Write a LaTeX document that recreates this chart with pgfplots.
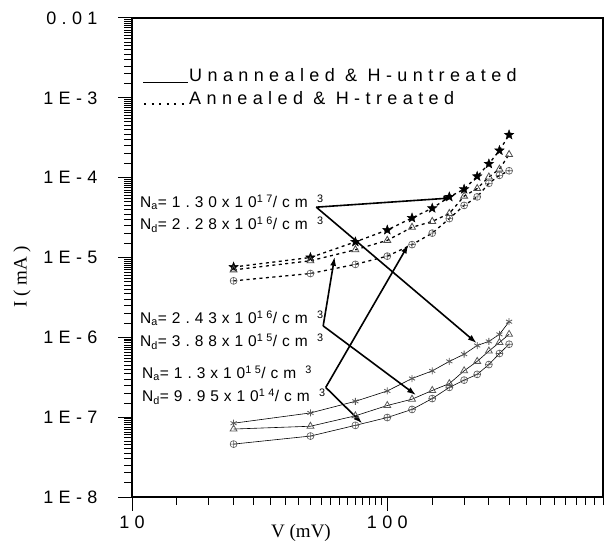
\documentclass[border=0pt]{standalone}
\usepackage{pgfplots}
\pgfplotsset{compat=1.18}
\usepackage{pgfplotstable}
\usepackage{fontspec}
\setmainfont{Liberation Sans}
\newfontfamily\spc[LetterSpace=30]{Liberation Sans}
\newfontfamily\spcb[LetterSpace=32]{Liberation Sans}
\newfontfamily\tnr{Liberation Serif}
\usetikzlibrary{arrows.meta}

\pgfdeclareplotmark{fstar}{%
  \pgfpathmoveto{\pgfpointpolar{90}{\pgfplotmarksize}}%
  \pgfpathlineto{\pgfpointpolar{126}{0.42\pgfplotmarksize}}%
  \pgfpathlineto{\pgfpointpolar{162}{\pgfplotmarksize}}%
  \pgfpathlineto{\pgfpointpolar{198}{0.42\pgfplotmarksize}}%
  \pgfpathlineto{\pgfpointpolar{234}{\pgfplotmarksize}}%
  \pgfpathlineto{\pgfpointpolar{270}{0.42\pgfplotmarksize}}%
  \pgfpathlineto{\pgfpointpolar{306}{\pgfplotmarksize}}%
  \pgfpathlineto{\pgfpointpolar{342}{0.42\pgfplotmarksize}}%
  \pgfpathlineto{\pgfpointpolar{18}{\pgfplotmarksize}}%
  \pgfpathlineto{\pgfpointpolar{54}{0.42\pgfplotmarksize}}%
  \pgfpathclose\pgfusepathqfillstroke}

\pgfplotstableread{
V    Uast     Utri     Uopl     Astar    Atri     Aopl
25   8.4e-8   7.1e-8   4.6e-8   7.6e-6   7.0e-6   5.1e-6
50   1.13e-7  7.7e-8   5.8e-8   1.0e-5   9.1e-6   6.3e-6
75   1.58e-7  1.04e-7  7.9e-8   1.57e-5  1.25e-5  8.2e-6
100  2.13e-7  1.40e-7  9.9e-8   2.21e-5  1.64e-5  1.04e-5
125  3.05e-7  1.68e-7  1.25e-7  3.13e-5  2.39e-5  1.45e-5
150  3.8e-7   2.16e-7  1.71e-7  4.14e-5  2.83e-5  2.02e-5
175  5.0e-7   2.63e-7  2.36e-7  5.75e-5  3.56e-5  3.07e-5
200  6.15e-7  3.81e-7  2.91e-7  7.17e-5  5.87e-5  4.49e-5
225  7.9e-7   5.0e-7   3.44e-7  1.04e-4  7.31e-5  5.75e-5
250  8.9e-7   6.73e-7  4.56e-7  1.49e-4  1.02e-4  8.49e-5
275  1.09e-6  8.63e-7  6.27e-7  2.19e-4  1.28e-4  1.07e-4
300  1.57e-6  1.09e-6  8.2e-7   3.44e-4  1.95e-4  1.22e-4
}\data

\begin{document}
\begin{tikzpicture}[x=1bp,y=1bp]
\path[use as bounding box] (-132,-46) rectangle (473,497);
\begin{axis}[
  at={(0,0)}, anchor=south west,
  scale only axis, width=471bp, height=479bp,
  xmode=log, ymode=log,
  xmin=10, xmax=700, ymin=1e-8, ymax=1e-2,
  axis line style={line width=1.3bp},
  tick pos=left, tick align=outside,
  major tick length=14bp, minor tick length=8bp,
  every tick/.style={black, line width=1bp},
  xtick={10,100}, xticklabels={{\spc 10},{\spc 100}},
  minor xtick={15,20,25,30,35,40,45,50,55,60,65,70,75,80,85,90,95,150,200,250,300,350,400,450,500,550,600,650,700},
  ytick={1e-8,1e-7,1e-6,1e-5,1e-4,1e-3,1e-2},
  yticklabels={{\spc 1E-8},{\spc 1E-7},{\spc 1E-6},{\spc 1E-5},{\spc 1E-4},{\spc 1E-3},{\spc 0.01}},
  minor ytick={1.5e-8,2e-8,2.5e-8,3e-8,3.5e-8,4e-8,4.5e-8,5e-8,5.5e-8,6e-8,6.5e-8,7e-8,7.5e-8,8e-8,8.5e-8,9e-8,9.5e-8,
    1.5e-7,2e-7,2.5e-7,3e-7,3.5e-7,4e-7,4.5e-7,5e-7,5.5e-7,6e-7,6.5e-7,7e-7,7.5e-7,8e-7,8.5e-7,9e-7,9.5e-7,
    1.5e-6,2e-6,2.5e-6,3e-6,3.5e-6,4e-6,4.5e-6,5e-6,5.5e-6,6e-6,6.5e-6,7e-6,7.5e-6,8e-6,8.5e-6,9e-6,9.5e-6,
    1.5e-5,2e-5,2.5e-5,3e-5,3.5e-5,4e-5,4.5e-5,5e-5,5.5e-5,6e-5,6.5e-5,7e-5,7.5e-5,8e-5,8.5e-5,9e-5,9.5e-5,
    1.5e-4,2e-4,2.5e-4,3e-4,3.5e-4,4e-4,4.5e-4,5e-4,5.5e-4,6e-4,6.5e-4,7e-4,7.5e-4,8e-4,8.5e-4,9e-4,9.5e-4,
    1.5e-3,2e-3,2.5e-3,3e-3,3.5e-3,4e-3,4.5e-3,5e-3,5.5e-3,6e-3,6.5e-3,7e-3,7.5e-3,8e-3,8.5e-3,9e-3,9.5e-3},
  tick label style={font=\fontsize{18bp}{21bp}\selectfont},
  yticklabel style={anchor=east, xshift=-17bp},
  xticklabel style={anchor=north, yshift=-1bp},
  clip=false,
]
\addplot[black, line width=0.6bp, mark=asterisk, mark size=3.5bp, mark options={black!65, line width=0.8bp}] table[x=V,y=Uast]{\data};
\addplot[black, line width=0.6bp, mark=triangle, mark size=4bp, mark options={black!65, fill=white, line width=0.8bp}] table[x=V,y=Utri]{\data};
\addplot[black, line width=0.6bp, mark=oplus, mark size=3.5bp, mark options={black!65, fill=white, line width=0.6bp}] table[x=V,y=Uopl]{\data};
\addplot[black, line width=1.3bp, dash pattern=on 3bp off 3.5bp, mark=fstar, mark size=5bp, mark options={black, solid, line width=0.4bp}] table[x=V,y=Astar]{\data};
\addplot[black, line width=1.3bp, dash pattern=on 3bp off 3.5bp, mark=triangle, mark size=4bp, mark options={black!70, solid, fill=white, line width=0.8bp}] table[x=V,y=Atri]{\data};
\addplot[black, line width=1.3bp, dash pattern=on 3bp off 3.5bp, mark=oplus, mark size=3.5bp, mark options={black!65, solid, fill=white, line width=0.6bp}] table[x=V,y=Aopl]{\data};
% arrows
\draw[line width=1.6bp, -{Latex[length=9bp,width=6bp]}] (axis cs:52.7,4.27e-5) -- (axis cs:180,5.58e-5);
\draw[line width=1.6bp, -{Latex[length=9bp,width=6bp]}] (axis cs:52.7,4.27e-5) -- (axis cs:224,8.45e-7);
\draw[line width=1.6bp, -{Latex[length=9bp,width=6bp]}] (axis cs:56.1,1.39e-6) -- (axis cs:62.2,1.02e-5);
\draw[line width=1.6bp, -{Latex[length=9bp,width=6bp]}] (axis cs:56.1,1.39e-6) -- (axis cs:129.6,1.89e-7);
\draw[line width=1.6bp, -{Latex[length=9bp,width=6bp]}] (axis cs:57.4,2.36e-7) -- (axis cs:121,1.45e-5);
\draw[line width=1.6bp, -{Latex[length=9bp,width=6bp]}] (axis cs:57.4,2.36e-7) -- (axis cs:79.8,8.36e-8);
\end{axis}
% axis labels
\node[rotate=90, font=\tnr\fontsize{19bp}{22bp}\selectfont] at (-110,220) {I ( mA )};
\node[font=\tnr\fontsize{19bp}{22bp}\selectfont] at (169,-36) {V (mV)};
% legend
\begin{scope}[every node/.style={anchor=west, inner sep=0pt, font=\spc\fontsize{18bp}{21bp}\selectfont}]
\draw[line width=0.9bp] (11,415) -- (56,415);
\node at (57,422) {Unannealed \& H-untreated};
\draw[line width=2bp, dash pattern=on 2bp off 5.5bp] (12,393) -- (56,393);
\node at (57,399) {Annealed \& H-treated};
\end{scope}
% annotations
\begin{scope}[every node/.style={anchor=west, inner sep=0pt, font=\spcb\fontsize{15.5bp}{18bp}\selectfont}]
\node at (8,295) {N\textsubscript{a}=1.30x10\textsuperscript{17}/cm \textsuperscript{3}};
\node at (8,272) {N\textsubscript{d}=2.28x10\textsuperscript{16}/cm \textsuperscript{3}};
\node at (8,179) {N\textsubscript{a}=2.43x10\textsuperscript{16}/cm \textsuperscript{3}};
\node at (8,155) {N\textsubscript{d}=3.88x10\textsuperscript{15}/cm \textsuperscript{3}};
\node at (10,124) {N\textsubscript{a}=1.3x10\textsuperscript{15}/cm \textsuperscript{3}};
\node at (10,100) {N\textsubscript{d}=9.95x10\textsuperscript{14}/cm \textsuperscript{3}};
\end{scope}
\end{tikzpicture}
\end{document}
